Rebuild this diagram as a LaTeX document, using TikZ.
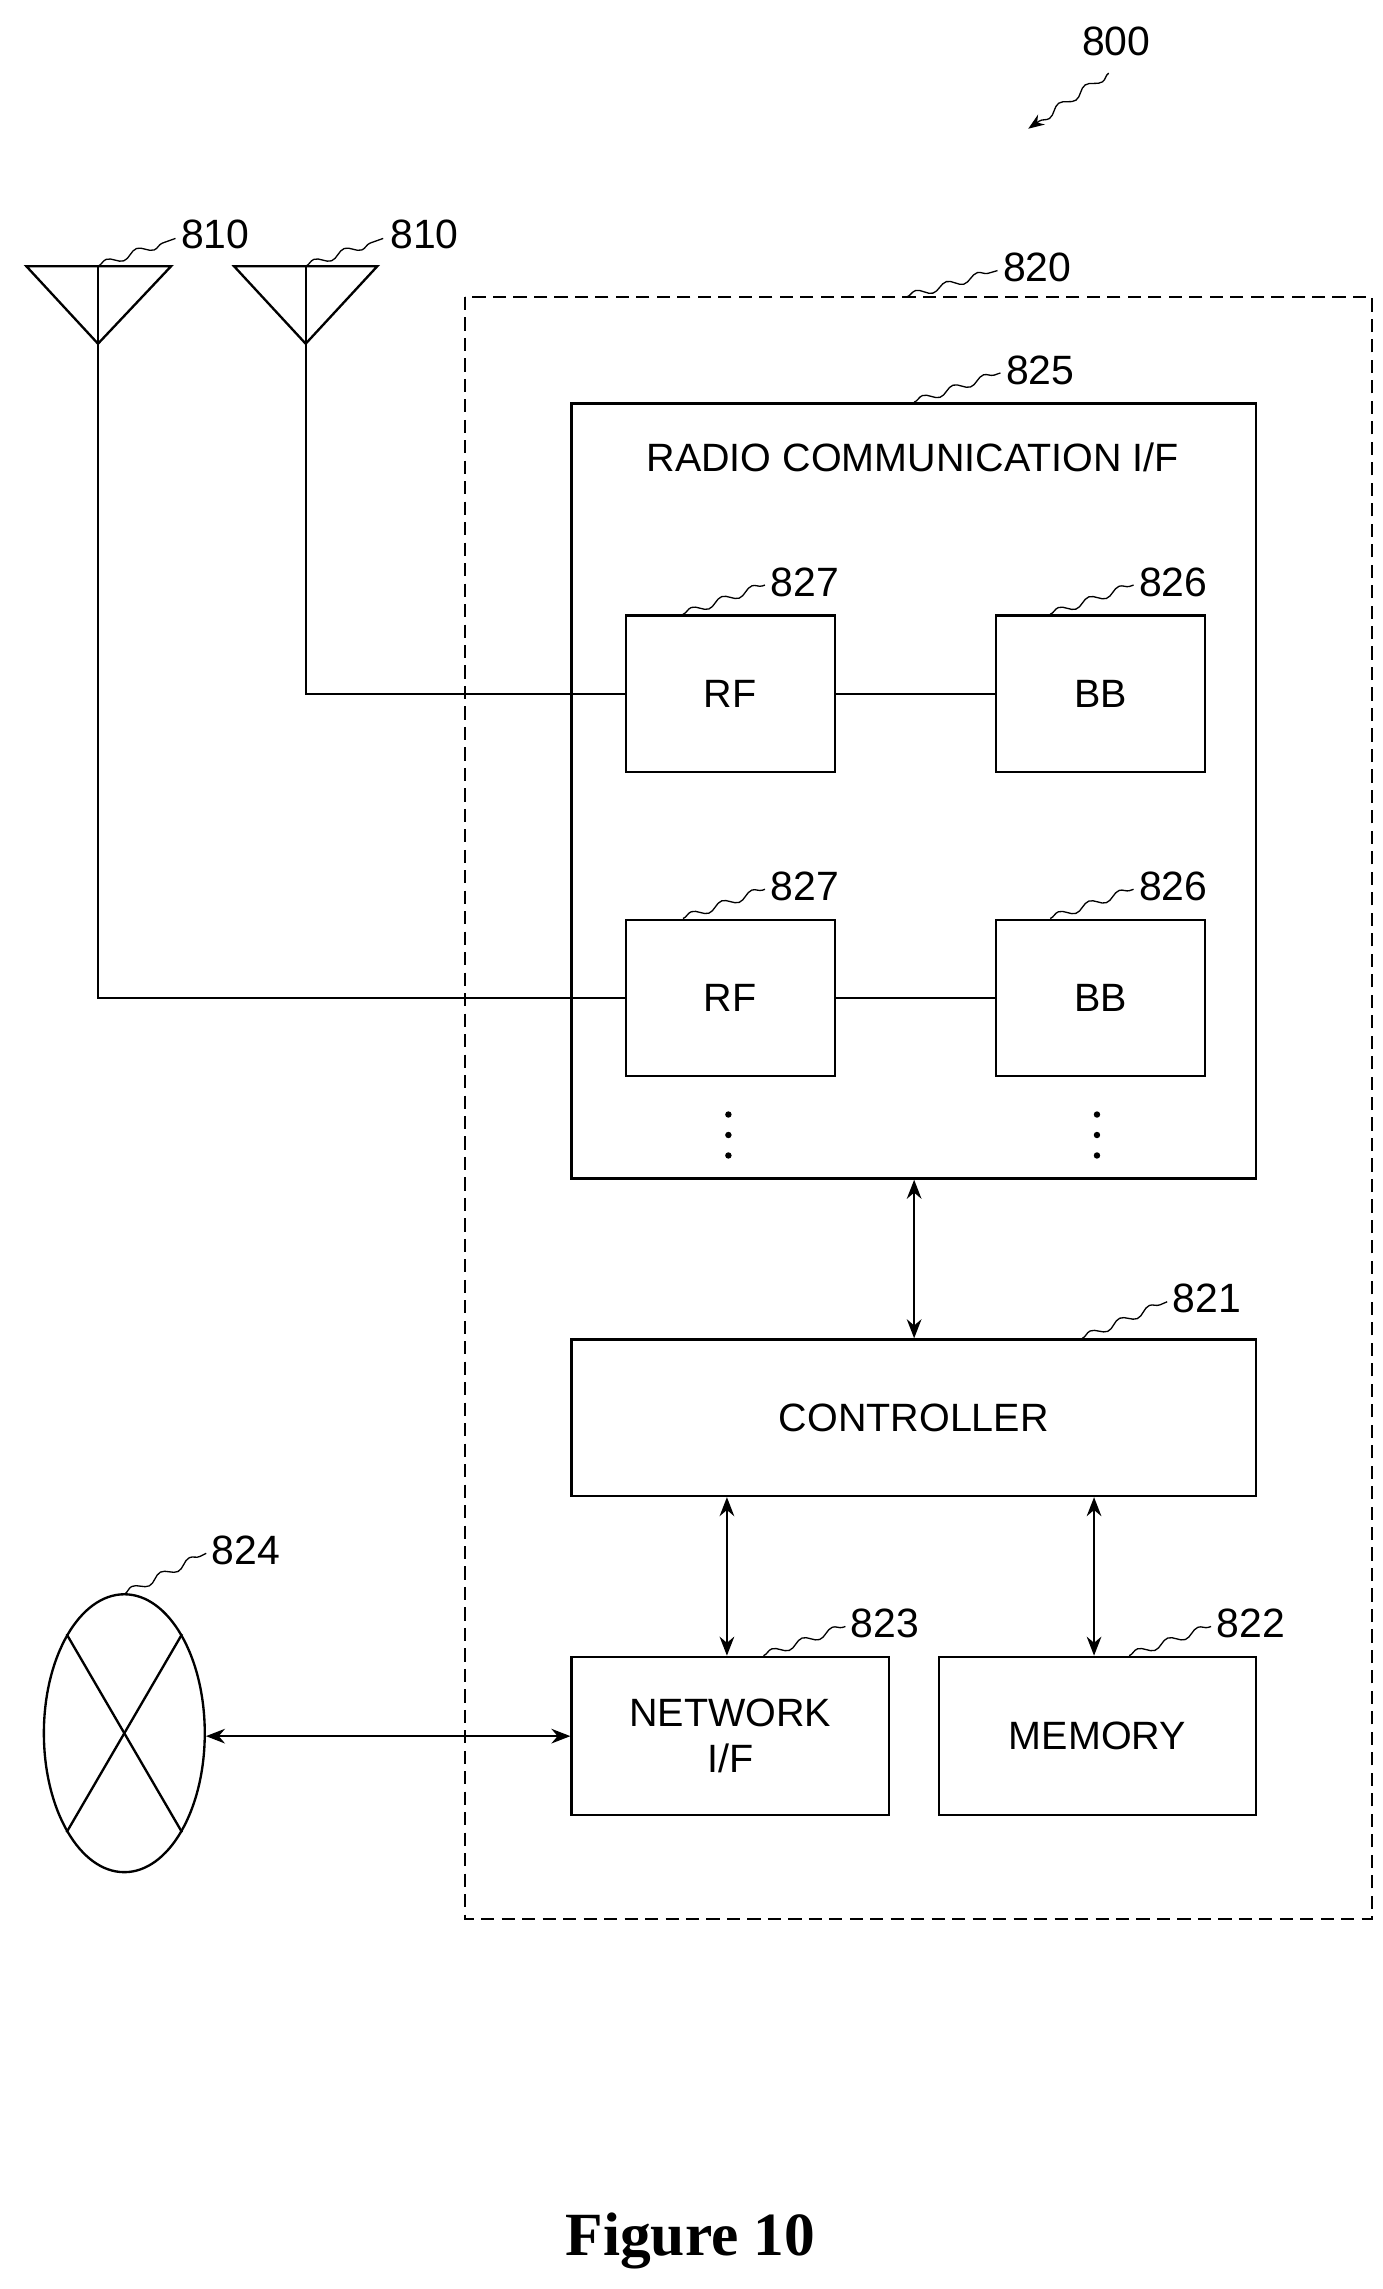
\documentclass[tikz,border=0pt]{standalone}
\usepackage{fontspec}
\setmainfont{Liberation Sans}
\newfontfamily\serifb{Liberation Serif}
\usetikzlibrary{decorations.pathmorphing,arrows.meta,shapes.geometric}
\begin{document}
\begin{tikzpicture}[x=1pt,y=-1pt,line width=1.6pt,
  box/.style={draw,rectangle,inner sep=0pt,anchor=north west,align=center,font=\fontsize{27}{31}\selectfont},
  lbl/.style={font=\fontsize{28}{30}\selectfont,anchor=west,inner sep=1pt},
  sq/.style={line width=0.9pt,decorate,decoration={snake,amplitude=2.5pt,segment length=22pt}},
  dbl/.style={{Stealth[length=13pt,width=10pt]}-{Stealth[length=13pt,width=10pt]}}]
\useasboundingbox (0,0) rectangle (945,1565);
% outer dashed
\draw[dash pattern=on 9pt off 5pt,line width=1pt] (318,203) rectangle (938,1312);
\node[box,minimum width=468pt,minimum height=530pt] (rif) at (390,275) {};
\node[font=\fontsize{27}{31}\selectfont] (riftxt) at (624,313) {RADIO COMMUNICATION I/F};
\node[box,minimum width=143pt,minimum height=107pt] (rf1) at (427,420) {RF};
\node[box,minimum width=143pt,minimum height=107pt] (bb1) at (680,420) {BB};
\node[box,minimum width=143pt,minimum height=107pt] (rf2) at (427,628) {RF};
\node[box,minimum width=143pt,minimum height=107pt] (bb2) at (680,628) {BB};
\foreach \x in {498,750}{\foreach \y in {762,776,790}{\fill (\x,\y) circle (2.2pt);}}
\node[box,minimum width=468pt,minimum height=107pt] (ctl) at (390,915) {CONTROLLER};
\node[box,minimum width=217pt,minimum height=108pt] (nif) at (390,1132) {NETWORK\\I/F};
\node[box,minimum width=217pt,minimum height=108pt] (mem) at (641,1132) {MEMORY};
\node[draw,ellipse,minimum width=110pt,minimum height=190pt,inner sep=0pt] (net) at (85,1185) {};
\draw (net.north west) -- (net.south east);
\draw (net.north east) -- (net.south west);
% antennas
\coordinate (a1) at (67,235); \coordinate (a2) at (209,235);
\draw (18,182) -- (117,182) -- (a1) -- cycle; \draw (67,182) -- (a1);
\draw (160,182) -- (258,182) -- (a2) -- cycle; \draw (209,182) -- (a2);
\draw (a1) |- (rf2.west);
\draw (a2) |- (rf1.west);
\draw (rf1) -- (bb1); \draw (rf2) -- (bb2);
\draw[dbl] (rif.south -| 625,0) -- (ctl.north -| 625,0);
\draw[dbl] (ctl.south -| 497,0) -- (nif.north -| 497,0);
\draw[dbl] (ctl.south -| 748,0) -- (mem.north -| 748,0);
\draw[dbl] (net.east |- 0,1187) -- (nif.west |- 0,1187);
% labels
\node[lbl] (l800) at (738,28) {800};
\draw[sq,-{Stealth[length=11pt]}] (758,50) -- (703,88);
\node[lbl] (l810a) at (122,160) {810};
\draw[sq] (67,182) -- (120,163);
\node[lbl] (l810b) at (265,160) {810};
\draw[sq] (209,182) -- (262,163);
\node[lbl] (l820) at (684,183) {820};
\draw[sq] (620,203) -- (682,185);
\node[lbl] (l825) at (686,253) {825};
\draw[sq] (625,275) -- (684,255);
\node[lbl] (l827a) at (525,398) {827};
\draw[sq] (467,420) -- (523,400);
\node[lbl] (l826a) at (777,398) {826};
\draw[sq] (718,420) -- (775,400);
\node[lbl] (l827b) at (525,606) {827};
\draw[sq] (467,628) -- (523,608);
\node[lbl] (l826b) at (777,606) {826};
\draw[sq] (718,628) -- (775,608);
\node[lbl] (l821) at (800,888) {821};
\draw[sq] (740,915) -- (798,890);
\node[lbl] (l823) at (580,1110) {823};
\draw[sq] (522,1132) -- (578,1112);
\node[lbl] (l822) at (830,1110) {822};
\draw[sq] (772,1132) -- (828,1112);
\node[lbl] (l824) at (143,1060) {824};
\draw[sq] (85,1090) -- (141,1062);
\node[font=\serifb\bfseries\fontsize{42}{46}\selectfont] (fig) at (472,1532) {Figure 10};
\end{tikzpicture}
\end{document}
